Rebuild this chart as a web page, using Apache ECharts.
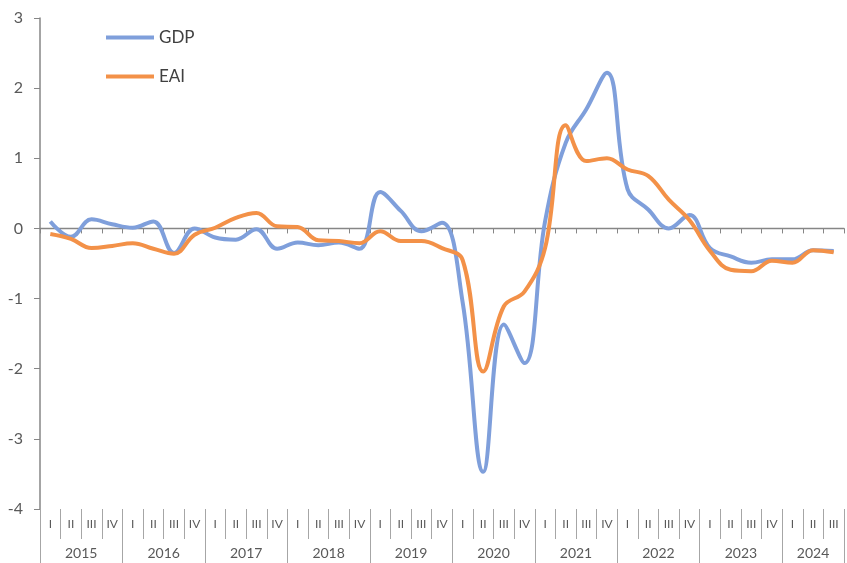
<!DOCTYPE html>
<html>
<head>
<meta charset="utf-8">
<script src="https://cdn.jsdelivr.net/npm/echarts@6/dist/echarts.min.js"></script>
<style>
  html, body { margin: 0; padding: 0; background: #fff; }
  #chart { width: 847px; height: 563px; }
</style>
</head>
<body>
<div id="chart"></div>
<script>
// years and quarter numerals used for the two-level x axis
const years = ['2015', '2016', '2017', '2018', '2019', '2020', '2021', '2022', '2023', '2024']
const quarterNames = ['I', 'II', 'III', 'IV']
const quartersPerYear = [4, 4, 4, 4, 4, 4, 4, 4, 4, 3]

// quarterly values, 2015 Q1 .. 2024 Q3
const gdp = [
  0.10, -0.12, 0.13, 0.06,
  0.01, 0.10, -0.35, 0.00,
  -0.13, -0.16, -0.01, -0.29,
  -0.20, -0.24, -0.20, -0.29,
  0.52, 0.25, -0.04, 0.08,
  -1.05, -3.47, -1.37, -1.92,
  0.10, 1.22, 1.70, 2.22,
  0.56, 0.27, 0.00, 0.19,
  -0.28, -0.40, -0.49, -0.44,
  -0.44, -0.31, -0.32
]
const eai = [
  -0.08, -0.15, -0.28, -0.25,
  -0.21, -0.29, -0.36, -0.09,
  0.01, 0.15, 0.22, 0.03,
  0.02, -0.17, -0.18, -0.21,
  -0.04, -0.18, -0.18, -0.28,
  -0.45, -2.04, -1.11, -0.90,
  -0.28, 1.47, 0.96, 1.00,
  0.84, 0.75, 0.41, 0.12,
  -0.32, -0.59, -0.61, -0.46,
  -0.49, -0.31, -0.34
]

// quarter labels (one per data point)
const quarterLabels = []
quartersPerYear.forEach((n) => {
  for (let q = 0; q < n; q++) quarterLabels.push(quarterNames[q])
})

// year axis: half-quarter points, label at the middle of each year, tick at its edges
const halfCount = quarterLabels.length * 2 + 1
const yearLabels = new Array(halfCount).fill('')
const yearEdges = new Set()
let start = 0
quartersPerYear.forEach((n, i) => {
  yearEdges.add(start * 2)
  yearLabels[start * 2 + n] = years[i]
  start += n
})
yearEdges.add(start * 2)

const textColor = '#595959'
const axisColor = '#868686'
const font = 'Lato, "Open Sans", sans-serif'

const chart = echarts.init(document.getElementById('chart'))
chart.setOption({
  backgroundColor: '#fff',
  animation: false,
  textStyle: { fontFamily: font },
  legend: {
    orient: 'vertical',
    left: 101,
    top: 24,
    icon: 'rect',
    itemWidth: 48,
    itemHeight: 4,
    itemGap: 22,
    textStyle: { fontSize: 17, color: '#404040', fontFamily: font },
    data: ['GDP', 'EAI']
  },
  grid: { left: 40, right: -4, top: 18, bottom: 54 },
  xAxis: [
    {
      // axis line on zero with small ticks
      type: 'category',
      data: quarterLabels,
      boundaryGap: true,
      axisLine: { onZero: true, lineStyle: { color: axisColor, width: 1.3 } },
      axisTick: { show: true, interval: 0, length: 5, lineStyle: { color: axisColor } },
      axisLabel: { show: false },
      splitLine: { show: false }
    },
    {
      // quarter labels at the bottom
      type: 'category',
      data: quarterLabels,
      position: 'bottom',
      boundaryGap: true,
      axisLine: { show: false, onZero: false },
      axisTick: { show: true, interval: 0, length: 30, lineStyle: { color: '#a6a6a6' } },
      axisLabel: { interval: 0, margin: 9, fontSize: 12, color: textColor, fontFamily: font },
      splitLine: { show: false }
    },
    {
      // year labels
      type: 'category',
      data: yearLabels,
      position: 'bottom',
      boundaryGap: false,
      axisLine: { show: false, onZero: false },
      axisTick: {
        show: true,
        length: 60,
        interval: (idx) => yearEdges.has(idx),
        lineStyle: { color: '#a6a6a6' }
      },
      axisLabel: { interval: 0, margin: 37, fontSize: 14, color: textColor, fontFamily: font },
      splitLine: { show: false }
    }
  ],
  yAxis: {
    type: 'value',
    min: -4,
    max: 3,
    interval: 1,
    axisLine: { show: true, lineStyle: { color: axisColor, width: 1.5 } },
    axisTick: { show: true, length: 6, lineStyle: { color: axisColor } },
    axisLabel: { margin: 17, fontSize: 16, color: textColor, fontFamily: font },
    splitLine: { show: false }
  },
  series: [
    {
      name: 'GDP',
      type: 'line',
      data: gdp,
      smooth: 0.4,
      symbol: 'none',
      lineStyle: { color: '#7f9fdb', width: 4 },
      itemStyle: { color: '#7f9fdb' }
    },
    {
      name: 'EAI',
      type: 'line',
      data: eai,
      smooth: 0.4,
      symbol: 'none',
      lineStyle: { color: '#f39148', width: 4 },
      itemStyle: { color: '#f39148' }
    }
  ]
})
</script>
</body>
</html>
